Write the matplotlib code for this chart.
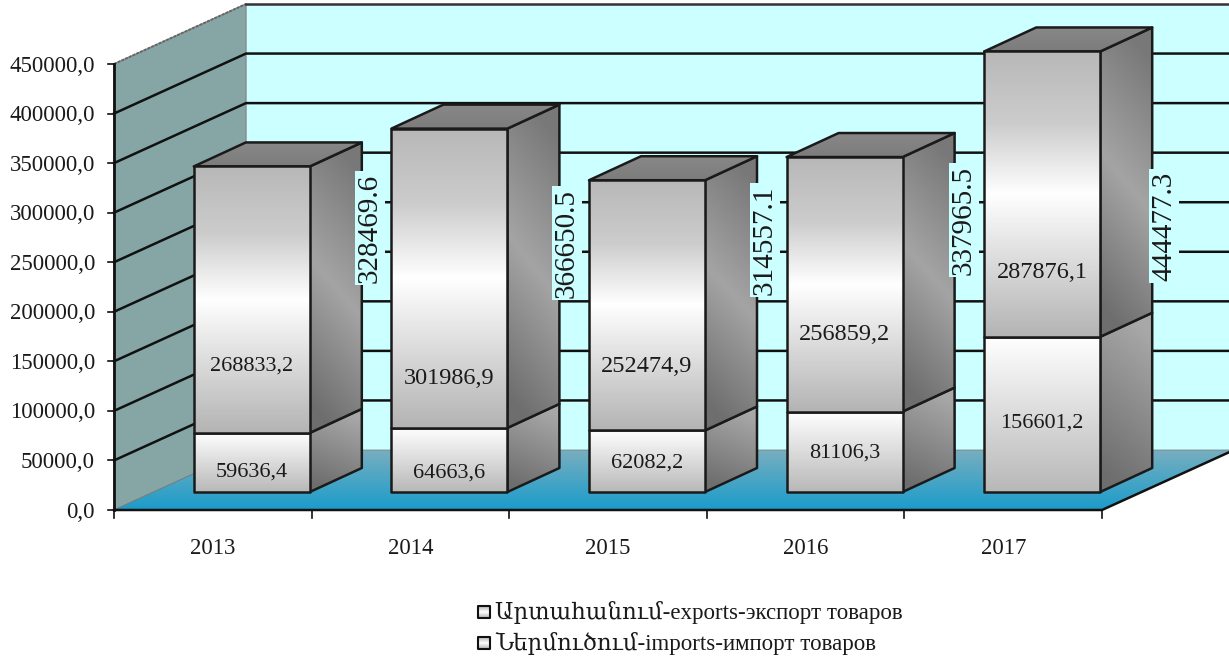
import matplotlib
matplotlib.use("Agg")
import matplotlib.pyplot as plt
from matplotlib.colors import LinearSegmentedColormap
from matplotlib.patches import Polygon
import numpy as np

years = ["2013", "2014", "2015", "2016", "2017"]
imports = [59636.4, 64663.6, 62082.2, 81106.3, 156601.2]
exports = [268833.2, 301986.9, 252474.9, 256859.2, 287876.1]
import_labels = ["59636,4", "64663,6", "62082,2", "81106,3", "156601,2"]
export_labels = ["268833,2", "301986,9", "252474,9", "256859,2", "287876,1"]
total_labels = ["328469.6", "366650.5", "314557.1", "337965.5", "444477.3"]
y_ticks = list(range(0, 450001, 50000))
legend_names = ["Արտահանում-exports-экспорт товаров", "Ներմուծում-imports-импорт товаров"]

# label placement, the original chart had them dragged around by hand
import_label_y = [472, 473, 463, 453, 423]
export_label_y = [366, 378, 366, 334, 272]
export_label_size = [16, 17.5, 17.5, 17.5, 17.5]
total_label_x = [370, 567, 765, 964, 1164]
total_label_y = [228, 243, 240, 220, 226]

W, H = 1229, 659
AX_LEFT, AX_BOTTOM = 114, 510
CAT_W = 197.6
PX_PER_VAL = 446 / 450000
TEXT = "#1a1a1a"

plt.rcParams["font.family"] = ["Liberation Serif", "DejaVu Serif"]


# pixel lengths to data units
def dx(px):
    return px / CAT_W


def dy(px):
    return px / PX_PER_VAL


# pixel positions to data coordinates, for the text placement above
def pos_x(px):
    return -0.5 + dx(px - AX_LEFT)


def pos_y(px):
    return dy(AX_BOTTOM - px)


fig = plt.figure(figsize=(W / 100, H / 100), dpi=100)
ax = fig.add_axes([0, 0, 1, 1])
ax.axis("off")
xlim = (pos_x(0), pos_x(W))
ylim = (pos_y(H), pos_y(0))

z = [1]


# polygon filled with a gradient, stops run from top to bottom of the face
def face(points, stops, slant=0.0, edge="#1a1a1a", lw=1.8):
    z[0] += 1
    pts = np.array(points)
    x0, x1 = pts[:, 0].min(), pts[:, 0].max()
    y0, y1 = pts[:, 1].min(), pts[:, 1].max()
    yy, xx = np.mgrid[0:1:200j, 0:1:60j]
    t = np.clip(yy + slant * (0.5 - xx), 0, 1)
    cmap = LinearSegmentedColormap.from_list("f", stops)
    im = ax.imshow(t, cmap=cmap, vmin=0, vmax=1, extent=(x0, x1, y0, y1), origin="upper",
                   aspect="auto", zorder=z[0], interpolation="bilinear")
    poly = Polygon(points, closed=True, fc="none", ec=edge, lw=lw, zorder=z[0] + 0.5, joinstyle="round")
    ax.add_patch(poly)
    im.set_clip_path(poly)


# walls and floor
back_dx, back_dy = dx(132), dy(60)
wall_top = y_ticks[-1]
ax.add_patch(Polygon([(-0.5 + back_dx, back_dy), (xlim[1], back_dy), (xlim[1], wall_top + back_dy),
                      (-0.5 + back_dx, wall_top + back_dy)], fc="#ccffff", ec="none", zorder=1))
ax.add_patch(Polygon([(-0.5, 0), (-0.5 + back_dx, back_dy), (-0.5 + back_dx, wall_top + back_dy), (-0.5, wall_top)],
                     fc="#86a6a6", ec="#8a8a8a", lw=1, zorder=1))
for v in y_ticks:
    if 0 < v < wall_top:
        ax.plot([-0.5, -0.5 + back_dx, xlim[1]], [v, v + back_dy, v + back_dy], color="#111111", lw=1.8, zorder=1.5,
                solid_joinstyle="miter")
    ax.plot([-0.5 - dx(6), -0.5], [v, v], color="#111111", lw=1.2, zorder=50)
    ax.text(-0.5 - dx(19), v - dy(2), f"{v},0", ha="right", va="center", fontsize=16.5, color=TEXT, zorder=50)
ax.plot([-0.5, -0.5 + back_dx], [wall_top, wall_top + back_dy], color="#666666", lw=1.4, ls=(0, (1.5, 0.6)), zorder=1.5)
ax.plot([-0.5 + back_dx, xlim[1]], [wall_top + back_dy, wall_top + back_dy], color="#333333", lw=1.8, zorder=1.5)

face([(-0.5, 0), (4.5, 0), (4.5 + back_dx, back_dy), (-0.5 + back_dx, back_dy)], ["#78aebf", "#1a9ccb"],
     edge="#777777", lw=0.5)
ax.plot([-0.5, -0.5], [0, wall_top], color="#111111", lw=2, zorder=60)
ax.plot([-0.5, 4.5, 4.5 + back_dx], [0, 0, back_dy], color="#111111", lw=1.8, zorder=60)
for i in range(len(years) + 1):
    ax.plot([i - 0.5, i - 0.5], [0, -dy(8)], color="#111111", lw=1.2, zorder=60)

# bars, depth offset from the front of the floor
off_x, off_y = dx(39), dy(18)
side_x, side_y = dx(52), dy(24)
half = dx(58)

for i in range(len(years)):
    cx = i + off_x
    left, right = cx - half, cx + half
    base = off_y
    mid = base + imports[i]
    top = mid + exports[i]

    face([(right, base), (right + side_x, base + side_y), (right + side_x, mid + side_y), (right, mid)],
         ["#a8a8a8", "#6e6e6e"], slant=0.25)
    face([(right, mid), (right + side_x, mid + side_y), (right + side_x, top + side_y), (right, top)],
         ["#787878", "#a4a4a4", "#6e6e6e"], slant=0.2)
    face([(left, top), (right, top), (right + side_x, top + side_y), (left + side_x, top + side_y)],
         ["#888888", "#7c7c7c"])
    face([(left, base), (right, base), (right, mid), (left, mid)], ["#ffffff", "#b8b8b8"])
    face([(left, mid), (right, mid), (right, top), (left, top)],
         [(0, "#b8b8b8"), (0.25, "#cccccc"), (0.5, "#ffffff"), (1, "#b4b4b4")])

    ax.text(cx, pos_y(import_label_y[i]), import_labels[i], ha="center", va="center", fontsize=16, color=TEXT,
            zorder=70)
    ax.text(cx, pos_y(export_label_y[i]), export_labels[i], ha="center", va="center",
            fontsize=export_label_size[i], color=TEXT, zorder=70)
    ax.text(pos_x(total_label_x[i]), pos_y(total_label_y[i]), total_labels[i], rotation=90, ha="center", va="center",
            fontsize=21, color=TEXT, zorder=70, bbox=dict(fc="#ccffff", ec="none", pad=1.5))
    ax.text(i, -dy(39), years[i], ha="center", va="center", fontsize=16.5, color=TEXT, zorder=70)

# legend
for k, name in enumerate(legend_names):
    ly = -dy(102 + 31 * k)
    lx = pos_x(484)
    s = dx(6)
    h = dy(6)
    face([(lx - s, ly - h), (lx + s, ly - h), (lx + s, ly + h), (lx - s, ly + h)],
         ["#b4b4b4", "#ffffff", "#b0b0b0"], edge="#111111", lw=1.5)
    ax.text(lx + dx(11), ly, name, ha="left", va="center", fontsize=16.5, color=TEXT, zorder=70)

ax.set_xlim(xlim)
ax.set_ylim(ylim)
fig.savefig("out.png", dpi=100)
